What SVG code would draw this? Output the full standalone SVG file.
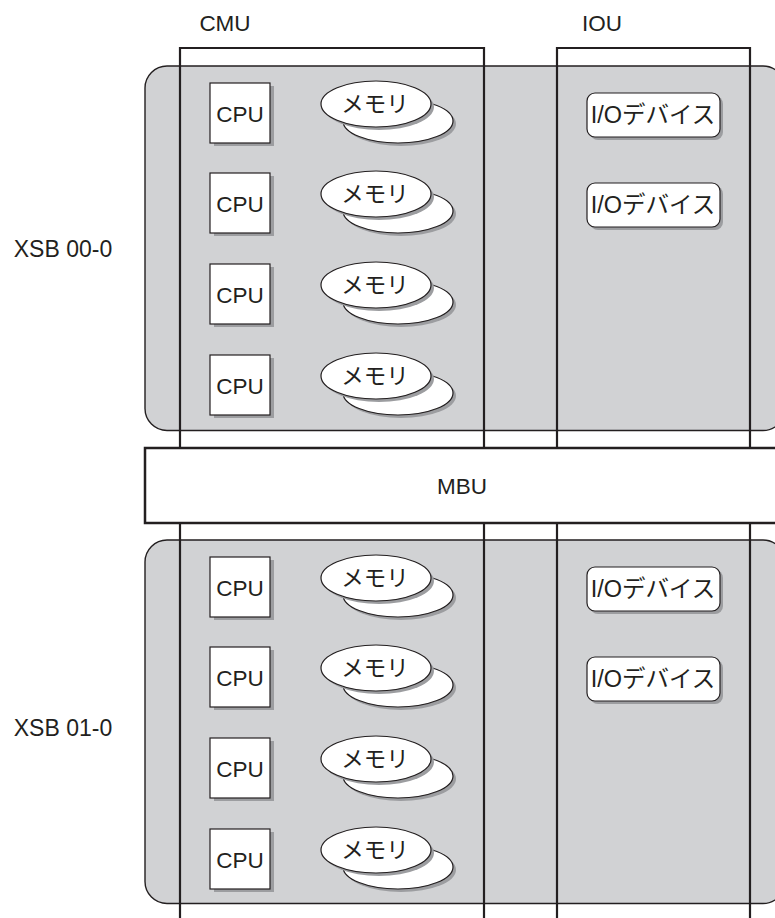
<svg xmlns="http://www.w3.org/2000/svg" width="775" height="918" viewBox="0 0 775 918">
<style>
text{font-family:"Liberation Sans","Noto Sans CJK JP",sans-serif;font-size:22.5px;fill:#231f20;text-anchor:middle}
.lbl{font-size:23px}
.io{font-size:23.5px}
.panel{fill:#d1d2d4;stroke:#231f20;stroke-width:1.4}
.frame{fill:none;stroke:#231f20;stroke-width:2.2}
.box{fill:#fff;stroke:#231f20;stroke-width:1.2}
.sh{fill:#9c9da0;stroke:none}
.mbu{fill:#fff;stroke:#231f20;stroke-width:2.5}
</style>
<rect width="775" height="918" fill="#fff"/>
<g id="xsb00-0">
<rect class="panel" x="145" y="66" width="640" height="364.5" rx="22"/>
<text class="lbl" x="63" y="257">XSB 00-0</text>
</g>
<g id="xsb01-0">
<rect class="panel" x="145" y="540" width="640" height="363.5" rx="22"/>
<text class="lbl" x="63" y="736">XSB 01-0</text>
</g>
<g id="cmu">
<path class="frame" d="M180,918V48H484V918"/>
<text x="225" y="31">CMU</text>
</g>
<g id="iou">
<path class="frame" d="M557,918V48H750V918"/>
<text x="602" y="31">IOU</text>
</g>
<g id="mbu">
<rect class="mbu" x="145" y="448" width="640" height="75"/>
<text x="462" y="494">MBU</text>
</g>
<g id="cpu-00-1"><rect class="sh" x="214" y="86" width="60" height="60"/><rect class="box" x="210" y="83" width="60" height="60"/><text x="240" y="122">CPU</text></g>
<g id="cpu-00-2"><rect class="sh" x="214" y="176" width="60" height="60"/><rect class="box" x="210" y="173" width="60" height="60"/><text x="240" y="212">CPU</text></g>
<g id="cpu-00-3"><rect class="sh" x="214" y="267" width="60" height="60"/><rect class="box" x="210" y="264" width="60" height="60"/><text x="240" y="303">CPU</text></g>
<g id="cpu-00-4"><rect class="sh" x="214" y="358" width="60" height="60"/><rect class="box" x="210" y="355" width="60" height="60"/><text x="240" y="394">CPU</text></g>
<g id="mem-00-1"><ellipse class="sh" cx="401" cy="124" rx="55" ry="22"/><ellipse class="box" cx="398" cy="121" rx="55" ry="22"/><ellipse class="sh" cx="379" cy="107" rx="55" ry="23"/><ellipse class="box" cx="376" cy="104" rx="55" ry="23"/><text x="375" y="112">メモリ</text></g>
<g id="mem-00-2"><ellipse class="sh" cx="401" cy="214" rx="55" ry="22"/><ellipse class="box" cx="398" cy="211" rx="55" ry="22"/><ellipse class="sh" cx="379" cy="197" rx="55" ry="23"/><ellipse class="box" cx="376" cy="194" rx="55" ry="23"/><text x="375" y="202">メモリ</text></g>
<g id="mem-00-3"><ellipse class="sh" cx="401" cy="305" rx="55" ry="22"/><ellipse class="box" cx="398" cy="302" rx="55" ry="22"/><ellipse class="sh" cx="379" cy="288" rx="55" ry="23"/><ellipse class="box" cx="376" cy="285" rx="55" ry="23"/><text x="375" y="293">メモリ</text></g>
<g id="mem-00-4"><ellipse class="sh" cx="401" cy="396" rx="55" ry="22"/><ellipse class="box" cx="398" cy="393" rx="55" ry="22"/><ellipse class="sh" cx="379" cy="379" rx="55" ry="23"/><ellipse class="box" cx="376" cy="376" rx="55" ry="23"/><text x="375" y="384">メモリ</text></g>
<g id="io-00-1"><rect class="sh" x="590" y="96" width="133" height="44" rx="8"/><rect class="box" x="587" y="93" width="133" height="44" rx="8"/><text class="io" x="653" y="123">I/Oデバイス</text></g>
<g id="io-00-2"><rect class="sh" x="590" y="186" width="133" height="44" rx="8"/><rect class="box" x="587" y="183" width="133" height="44" rx="8"/><text class="io" x="653" y="213">I/Oデバイス</text></g>
<g id="cpu-01-1"><rect class="sh" x="214" y="560" width="60" height="60"/><rect class="box" x="210" y="557" width="60" height="60"/><text x="240" y="596">CPU</text></g>
<g id="cpu-01-2"><rect class="sh" x="214" y="650" width="60" height="60"/><rect class="box" x="210" y="647" width="60" height="60"/><text x="240" y="686">CPU</text></g>
<g id="cpu-01-3"><rect class="sh" x="214" y="741" width="60" height="60"/><rect class="box" x="210" y="738" width="60" height="60"/><text x="240" y="777">CPU</text></g>
<g id="cpu-01-4"><rect class="sh" x="214" y="832" width="60" height="60"/><rect class="box" x="210" y="829" width="60" height="60"/><text x="240" y="868">CPU</text></g>
<g id="mem-01-1"><ellipse class="sh" cx="401" cy="598" rx="55" ry="22"/><ellipse class="box" cx="398" cy="595" rx="55" ry="22"/><ellipse class="sh" cx="379" cy="581" rx="55" ry="23"/><ellipse class="box" cx="376" cy="578" rx="55" ry="23"/><text x="375" y="586">メモリ</text></g>
<g id="mem-01-2"><ellipse class="sh" cx="401" cy="688" rx="55" ry="22"/><ellipse class="box" cx="398" cy="685" rx="55" ry="22"/><ellipse class="sh" cx="379" cy="671" rx="55" ry="23"/><ellipse class="box" cx="376" cy="668" rx="55" ry="23"/><text x="375" y="676">メモリ</text></g>
<g id="mem-01-3"><ellipse class="sh" cx="401" cy="779" rx="55" ry="22"/><ellipse class="box" cx="398" cy="776" rx="55" ry="22"/><ellipse class="sh" cx="379" cy="762" rx="55" ry="23"/><ellipse class="box" cx="376" cy="759" rx="55" ry="23"/><text x="375" y="767">メモリ</text></g>
<g id="mem-01-4"><ellipse class="sh" cx="401" cy="870" rx="55" ry="22"/><ellipse class="box" cx="398" cy="867" rx="55" ry="22"/><ellipse class="sh" cx="379" cy="853" rx="55" ry="23"/><ellipse class="box" cx="376" cy="850" rx="55" ry="23"/><text x="375" y="858">メモリ</text></g>
<g id="io-01-1"><rect class="sh" x="590" y="570" width="133" height="44" rx="8"/><rect class="box" x="587" y="567" width="133" height="44" rx="8"/><text class="io" x="653" y="597">I/Oデバイス</text></g>
<g id="io-01-2"><rect class="sh" x="590" y="660" width="133" height="44" rx="8"/><rect class="box" x="587" y="657" width="133" height="44" rx="8"/><text class="io" x="653" y="687">I/Oデバイス</text></g>
</svg>
